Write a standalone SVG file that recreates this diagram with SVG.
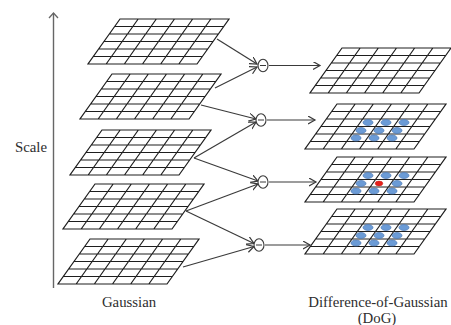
<svg xmlns="http://www.w3.org/2000/svg" xmlns:xlink="http://www.w3.org/1999/xlink" width="451" height="325" viewBox="0 0 451 325">
<style>
.grid{fill:#fff;stroke:#1e1e1e;stroke-width:1.2}
.conn{fill:none;stroke:#3a3a3a;stroke-width:1.2;marker-end:url(#arr)}
.op{fill:#fff;stroke:#3a3a3a;stroke-width:1.1}
.dot{fill:#6b9bd6;stroke:#4a78b5;stroke-width:0.7}
.red{fill:#e5201b;stroke:#c41a15;stroke-width:0.5}
.lbl{font-family:"Liberation Serif","Times New Roman",serif;font-size:14.8px;fill:#2e2e2e;text-anchor:middle}
</style>
<defs>
<marker id="arr" markerUnits="userSpaceOnUse" markerWidth="9" markerHeight="9" refX="7" refY="4" orient="auto">
<path d="M0,0 L7,4 L0,8" fill="none" stroke="#3a3a3a" stroke-width="1.2"/>
</marker>
<path id="grid" class="grid" d="M32,0 L141,0 L109,45 L0,45 Z M26.67,7.5 H135.67 M21.33,15 H130.33 M16,22.5 H125 M10.67,30 H119.67 M5.33,37.5 H114.33 M50.17,0 L18.17,45 M68.33,0 L36.33,45 M86.5,0 L54.5,45 M104.67,0 L72.67,45 M122.83,0 L90.83,45"/>
<g id="dots9">
<ellipse class="dot" cx="63" cy="18.5" rx="5" ry="3"/>
<ellipse class="dot" cx="81" cy="18.5" rx="5" ry="3"/>
<ellipse class="dot" cx="99" cy="18.5" rx="5" ry="3"/>
<ellipse class="dot" cx="56" cy="26.5" rx="5" ry="3"/>
<ellipse class="dot" cx="92" cy="26.5" rx="5" ry="3"/>
<ellipse class="dot" cx="51" cy="34" rx="5" ry="3"/>
<ellipse class="dot" cx="69" cy="34" rx="5" ry="3"/>
<ellipse class="dot" cx="87" cy="34" rx="5" ry="3"/>
</g>
</defs>

<g id="axis">
<line x1="53.5" y1="288" x2="53.5" y2="13" stroke="#666" stroke-width="1.4"/>
<polyline points="49,18 53.5,13 58,18" fill="none" stroke="#666" stroke-width="1.3"/>
<text class="lbl" x="31" y="152">Scale</text>
</g>

<g id="gauss1"><use xlink:href="#grid" href="#grid" transform="translate(88,19)"/></g>
<g id="gauss2"><use xlink:href="#grid" href="#grid" transform="translate(80,74)"/></g>
<g id="gauss3"><use xlink:href="#grid" href="#grid" transform="translate(70,130)"/></g>
<g id="gauss4"><use xlink:href="#grid" href="#grid" transform="translate(63,184)"/></g>
<g id="gauss5"><use xlink:href="#grid" href="#grid" transform="translate(58,239)"/></g>

<g id="dog1"><use xlink:href="#grid" href="#grid" transform="translate(310,48)"/></g>
<g id="dog2" transform="translate(305,104)">
<use xlink:href="#grid" href="#grid"/>
<use xlink:href="#dots9" href="#dots9"/>
<ellipse class="dot" cx="74" cy="26.5" rx="5" ry="3"/>
</g>
<g id="dog3" transform="translate(305,157)">
<use xlink:href="#grid" href="#grid"/>
<use xlink:href="#dots9" href="#dots9"/>
<ellipse class="red" cx="74" cy="26.5" rx="3.8" ry="2.4"/>
</g>
<g id="dog4" transform="translate(305,209)">
<use xlink:href="#grid" href="#grid"/>
<use xlink:href="#dots9" href="#dots9"/>
<ellipse class="dot" cx="74" cy="26.5" rx="5" ry="3"/>
</g>

<g id="connectors">
<line class="conn" x1="217" y1="39" x2="257" y2="64"/>
<line class="conn" x1="215" y1="88" x2="257" y2="67"/>
<line class="conn" x1="201" y1="105" x2="256" y2="119"/>
<line class="conn" x1="194" y1="158" x2="256" y2="122"/>
<line class="conn" x1="194" y1="158" x2="258" y2="181"/>
<line class="conn" x1="186" y1="211" x2="258" y2="184"/>
<line class="conn" x1="186" y1="211" x2="254" y2="243.5"/>
<line class="conn" x1="183" y1="267" x2="254" y2="246.5"/>
<line class="conn" x1="269" y1="65.5" x2="320" y2="65.5"/>
<line class="conn" x1="267" y1="120" x2="315" y2="120"/>
<line class="conn" x1="269" y1="182" x2="316" y2="182"/>
<line class="conn" x1="265" y1="245" x2="310" y2="245"/>
</g>

<g id="minus1"><ellipse class="op" cx="263" cy="65.5" rx="5" ry="6.3"/><line x1="260" y1="65.5" x2="266" y2="65.5" stroke="#3a3a3a"/></g>
<g id="minus2"><ellipse class="op" cx="261" cy="120" rx="5" ry="6.3"/><line x1="258" y1="120" x2="264" y2="120" stroke="#3a3a3a"/></g>
<g id="minus3"><ellipse class="op" cx="263" cy="182" rx="5" ry="6.3"/><line x1="260" y1="182" x2="266" y2="182" stroke="#3a3a3a"/></g>
<g id="minus4"><ellipse class="op" cx="259" cy="245" rx="5" ry="6.3"/><line x1="256" y1="245" x2="262" y2="245" stroke="#3a3a3a"/></g>

<g id="labels">
<text class="lbl" x="129" y="307">Gaussian</text>
<text class="lbl" x="378" y="307">Difference-of-Gaussian</text>
<text class="lbl" x="377" y="323">(DoG)</text>
</g>
</svg>
